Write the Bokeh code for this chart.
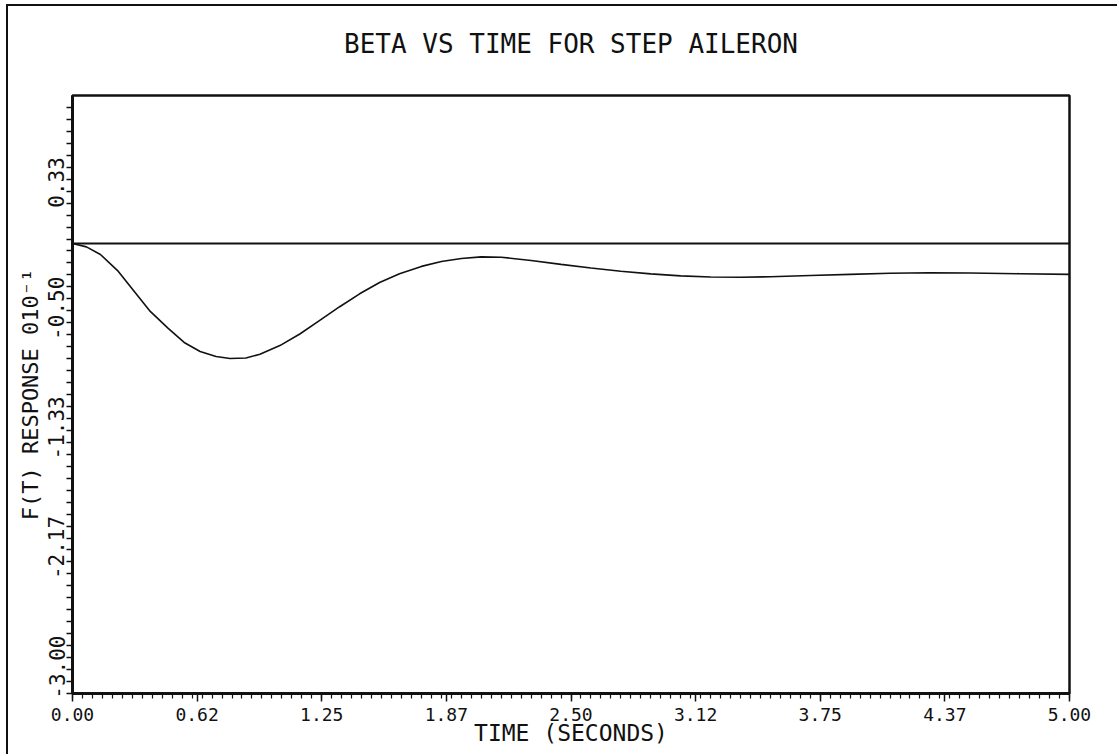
import math

from bokeh.embed import file_html
from bokeh.models import FixedTicker, LinearAxis, Range1d, Span
from bokeh.plotting import figure
from bokeh.resources import INLINE

# Sideslip (beta) time history after a step aileron input
t_sec = [0.00, 0.07, 0.14, 0.23, 0.31, 0.39, 0.48, 0.56, 0.64, 0.72, 0.79,
         0.87, 0.94, 1.04, 1.14, 1.24, 1.34, 1.44, 1.54, 1.64, 1.75, 1.85,
         1.95, 2.05, 2.15, 2.30, 2.45, 2.60, 2.75, 2.90, 3.05, 3.20, 3.35,
         3.50, 3.70, 3.90, 4.10, 4.30, 4.50, 4.75, 5.00]
beta = [0.136, 0.112, 0.059, -0.059, -0.199, -0.338, -0.456, -0.554, -0.617,
        -0.652, -0.666, -0.662, -0.636, -0.576, -0.495, -0.400, -0.305,
        -0.215, -0.136, -0.075, -0.024, 0.010, 0.031, 0.042, 0.040, 0.017,
        -0.010, -0.035, -0.058, -0.076, -0.090, -0.098, -0.100, -0.096,
        -0.088, -0.080, -0.072, -0.068, -0.070, -0.075, -0.080]

# level of the horizontal reference line the response starts from
ref_level = 0.136

x_ticks = [0.0, 0.625, 1.25, 1.875, 2.5, 3.125, 3.75, 4.375, 5.0]
x_tick_labels = ["0.00", "0.62", "1.25", "1.87", "2.50", "3.12", "3.75", "4.37", "5.00"]
y_ticks = [-3.0, -13 / 6, -4 / 3, -0.5, 1 / 3]
y_tick_labels = ["-3.00", "-2.17", "-1.33", "-0.50", "0.33"]

x_lo, x_hi = 0.0, 5.0
y_lo, y_hi = -3.0, 7 / 6

title_text = "BETA VS TIME FOR STEP AILERON"
x_title = "TIME (SECONDS)"
y_title = "F(T) RESPONSE 010\u207b\u00b9"

FONT = "DejaVu Sans Mono"
INK = "#111111"

# canvas sits inside a ruled page border (top and left edges)
PAGE_W, PAGE_H = 1119, 756
MARGIN_L, MARGIN_T, RULE = 6, 4, 2
W = PAGE_W - MARGIN_L - RULE
H = PAGE_H - MARGIN_T - RULE
FRAME_L, FRAME_T, FRAME_R, FRAME_B = 72, 95, 1069, 693  # page pixels

p = figure(width=W, height=H, x_range=Range1d(x_lo, x_hi), y_range=Range1d(y_lo, y_hi),
           output_backend="svg", toolbar_location=None,
           min_border_left=FRAME_L - MARGIN_L - RULE,
           min_border_right=PAGE_W - FRAME_R,
           min_border_top=FRAME_T - MARGIN_T - RULE,
           min_border_bottom=PAGE_H - FRAME_B)
p.styles = {"margin-left": f"{MARGIN_L}px", "margin-top": f"{MARGIN_T}px",
            "border-left": f"{RULE}px solid {INK}", "border-top": f"{RULE}px solid {INK}"}
p.grid.visible = False
p.background_fill_color = "white"
p.border_fill_color = "white"
p.outline_line_color = INK
p.outline_line_width = 2.5

# bottom axis: minor ticks every 0.05 s
xa = p.below[0]
xa.ticker = FixedTicker(ticks=x_ticks, minor_ticks=[i * 0.05 for i in range(101)])
xa.major_label_overrides = {v: s for v, s in zip(x_ticks, x_tick_labels)}
xa.axis_line_width = 3
xa.axis_line_color = INK
xa.major_tick_in = 0
xa.major_tick_out = 8
xa.minor_tick_in = 0
xa.minor_tick_out = 5
xa.major_tick_line_width = 1.5
xa.minor_tick_line_width = 1.2
xa.major_tick_line_color = INK
xa.minor_tick_line_color = INK
xa.major_label_standoff = 6
xa.major_label_text_font = FONT
xa.major_label_text_font_size = "18px"
xa.major_label_text_color = INK
xa.axis_label = x_title
xa.axis_label_standoff = -4
xa.axis_label_text_font = FONT
xa.axis_label_text_font_size = "23px"
xa.axis_label_text_font_style = "normal"
xa.axis_label_text_color = INK

# left axis: tick marks only, ten divisions per labelled step
ya = p.left[0]
ya.ticker = FixedTicker(ticks=[], minor_ticks=[y_lo + i / 12 for i in range(51)])
ya.axis_line_width = 3
ya.axis_line_color = INK
ya.minor_tick_in = 0
ya.minor_tick_out = 6
ya.minor_tick_line_width = 1.3
ya.minor_tick_line_color = INK
ya.major_label_standoff = 0

# tick labels read upward and end just above their tick
frame_h = FRAME_B - FRAME_T
px_to_y = (y_hi - y_lo) / frame_h
label_pos = [v + 58 * px_to_y for v in y_ticks]
yl = LinearAxis(ticker=FixedTicker(ticks=label_pos, minor_ticks=[]),
                major_label_overrides={v: s for v, s in zip(label_pos, y_tick_labels)},
                major_label_orientation=math.pi / 2,
                major_label_standoff=10,
                major_label_text_font=FONT, major_label_text_font_size="21px",
                major_label_text_color=INK,
                axis_line_color=None, major_tick_line_color=None, minor_tick_line_color=None,
                major_tick_in=0, major_tick_out=0,
                axis_label=y_title, axis_label_standoff=-5,
                axis_label_text_font=FONT, axis_label_text_font_size="22px",
                axis_label_text_font_style="normal", axis_label_text_color=INK)
p.add_layout(yl, "left")

# heading carried by a bare axis along the top edge
top = LinearAxis(ticker=FixedTicker(ticks=[], minor_ticks=[]),
                 axis_line_color=None, major_tick_line_color=None, minor_tick_line_color=None,
                 major_tick_in=0, major_tick_out=0, major_label_standoff=0,
                 axis_label=title_text, axis_label_standoff=37,
                 axis_label_text_font=FONT, axis_label_text_font_size="26px",
                 axis_label_text_font_style="normal", axis_label_text_color=INK)
p.add_layout(top, "above")

p.add_layout(Span(location=ref_level, dimension="width", line_color=INK, line_width=2))
p.line(t_sec, beta, line_color=INK, line_width=1.6)

open("out.html", "w").write(file_html(p, INLINE))
